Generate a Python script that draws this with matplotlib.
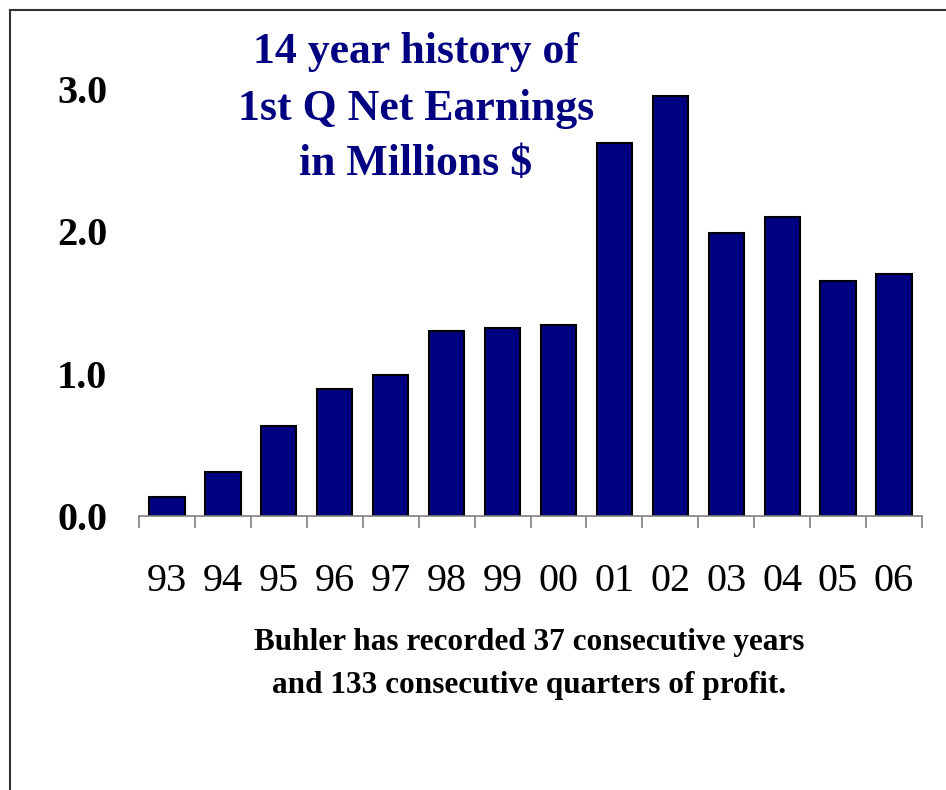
import matplotlib.pyplot as plt
from matplotlib.lines import Line2D
import numpy as np

years = ["93", "94", "95", "96", "97", "98", "99", "00", "01", "02", "03", "04", "05", "06"]
earnings = [0.13, 0.31, 0.63, 0.89, 0.99, 1.30, 1.32, 1.34, 2.62, 2.95, 1.99, 2.10, 1.65, 1.70]
yticks = [0.0, 1.0, 2.0, 3.0]

title_lines = ["14 year history of", "1st Q Net Earnings", "in Millions $"]
note_lines = ["Buhler has recorded 37 consecutive years", "and 133 consecutive quarters of profit."]

plt.rcParams['font.family'] = ['Liberation Serif', 'DejaVu Serif']

fig = plt.figure(figsize=(9.46, 7.9), dpi=100)
ax = fig.add_axes([139/946, 1-516/790, 783/946, 427/790])

x = np.arange(len(years))
ax.bar(x, earnings, width=0.63, color='#000080', edgecolor='black', linewidth=1.5)

ax.set_xlim(-0.5, len(years)-0.5)
ax.set_ylim(0, 3.0)
for s in ['top', 'right', 'left']:
    ax.spines[s].set_visible(False)
ax.spines['bottom'].set_color('#808080')
ax.spines['bottom'].set_linewidth(1.2)

ax.set_yticks(yticks)
ax.set_yticklabels(["%.1f" % v for v in yticks], fontsize=29, fontweight='bold')
ax.tick_params(axis='y', length=0, pad=23)

ax.set_xticks(x)
ax.set_xticklabels(years, fontsize=29)
ax.tick_params(axis='x', which='major', length=0, pad=34)
ax.set_xticks(np.arange(len(years)+1) - 0.5, minor=True)
ax.tick_params(axis='x', which='minor', length=8.6, width=1.2, color='#808080', direction='out')

# title, one line at a time (baselines)
for txt, yb in zip(title_lines, [63, 120, 175]):
    fig.text(416/946, 1-yb/790, txt, ha='center', va='baseline', color='#000080',
             fontsize=31.5, fontweight='bold')

for txt, yb in zip(note_lines, [650, 693]):
    fig.text(529/946, 1-yb/790, txt, ha='center', va='baseline', color='black',
             fontsize=22.5, fontweight='bold')

# frame lines (left and top)
fig.add_artist(Line2D([10/946, 10/946], [0, 1-10/790], transform=fig.transFigure,
                      color='#333333', linewidth=1.5))
fig.add_artist(Line2D([10/946, 1], [1-10/790, 1-10/790], transform=fig.transFigure,
                      color='#333333', linewidth=1.5))

fig.savefig("out.png", dpi=100)
